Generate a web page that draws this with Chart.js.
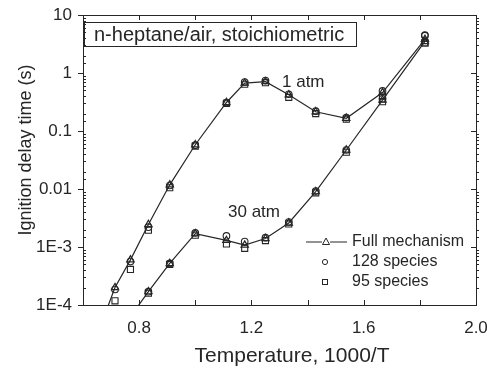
<!DOCTYPE html>
<html>
<head>
<meta charset="utf-8">
<script src="https://cdn.jsdelivr.net/npm/chart.js@4.4.1/dist/chart.umd.min.js"></script>
<style>
  html, body { margin: 0; padding: 0; background: #fff; }
  #wrap { width: 487px; height: 369px; }
</style>
</head>
<body>
<div id="wrap"><canvas id="chart" width="487" height="369"></canvas></div>
<script>
// 1000/T values (T = 1500 ... 550 K)
const invT = [0.667, 0.714, 0.769, 0.833, 0.909, 1.0, 1.111, 1.176, 1.25, 1.333, 1.429, 1.538, 1.667, 1.818];

// 1 atm
const full1atm = [5e-5, 2.0e-4, 6.0e-4, 2.45e-3, 0.0118, 0.058, 0.31, 0.67, 0.71, 0.42, 0.215, 0.166, 0.46, 3.8];
const sp128_1atm = [null, 1.85e-4, 5.6e-4, 2.2e-3, 0.0115, 0.057, 0.31, 0.70, 0.74, 0.43, 0.22, 0.17, 0.49, 4.5];
const sp95_1atm = [null, 1.18e-4, 4.1e-4, 1.95e-3, 0.0105, 0.055, 0.30, 0.64, 0.68, 0.38, 0.20, 0.16, 0.40, 3.3];

// 30 atm
const full30atm = [null, null, 6.3e-5, 1.7e-4, 5.2e-4, 1.7e-3, 1.3e-3, 1.08e-3, 1.4e-3, 2.6e-3, 9.0e-3, 0.047, 0.34, 3.5];
const sp128_30atm = [null, null, null, 1.7e-4, 5.2e-4, 1.75e-3, 1.55e-3, 1.24e-3, 1.45e-3, 2.7e-3, 9.2e-3, 0.047, 0.36, 4.4];
const sp95_30atm = [null, null, null, 1.6e-4, 5.0e-4, 1.6e-3, 1.13e-3, 0.95e-3, 1.29e-3, 2.5e-3, 8.6e-3, 0.043, 0.32, 3.3];

// tick labels
const xTickLabels = ['0.8', '1.2', '1.6', '2.0'];
const yTickValues = [1e-4, 1e-3, 0.01, 0.1, 1, 10];
const yTickLabels = ['1E-4', '1E-3', '0.01', '0.1', '1', '10'];

const xTitle = 'Temperature, 1000/T';
const yTitle = 'Ignition delay time (s)';

const ink = '#262626';
const fontFam = "'Liberation Sans', Arial, sans-serif";

function pts(ys) {
    return invT.map((x, i) => ({ x: x, y: ys[i] }));
}

function fullSet(ys) {
    return {
        data: pts(ys),
        borderColor: ink,
        borderWidth: 1.2,
        pointStyle: 'triangle',
        pointRadius: 4.2,
        pointBorderWidth: 1.2,
        pointBorderColor: ink,
        pointBackgroundColor: 'rgba(0,0,0,0)',
        showLine: true,
        clip: 0
    };
}

function markerSet(ys, style, r) {
    return {
        data: pts(ys),
        showLine: false,
        pointStyle: style,
        pointRadius: r,
        pointBorderWidth: 1.1,
        pointBorderColor: ink,
        pointBackgroundColor: 'rgba(0,0,0,0)'
    };
}

// ticks, frame, titles, boxed label, annotations and legend
const decor = {
    id: 'decor',
    afterDraw(chart) {
        const ctx = chart.ctx;
        const a = chart.chartArea;
        const xs = chart.scales.x, ys = chart.scales.y;
        ctx.save();
        ctx.strokeStyle = ink;
        ctx.fillStyle = ink;
        ctx.lineWidth = 1;

        // frame top/right
        ctx.beginPath();
        ctx.moveTo(a.left, a.top + 0.5);
        ctx.lineTo(a.right + 0.5, a.top + 0.5);
        ctx.lineTo(a.right + 0.5, a.bottom);
        ctx.stroke();

        // x ticks (inward)
        ctx.beginPath();
        xs.ticks.forEach(t => {
            if (t.value <= xs.min + 1e-6) return;
            const px = Math.round(xs.getPixelForValue(t.value)) + 0.5;
            ctx.moveTo(px, a.bottom);
            ctx.lineTo(px, a.bottom - 5);
            ctx.moveTo(px, a.top);
            ctx.lineTo(px, a.top + 5);
        });
        // y ticks
        ys.ticks.forEach(t => {
            const py = Math.round(ys.getPixelForValue(t.value)) + 0.5;
            const lg = Math.log10(t.value);
            const major = Math.abs(lg - Math.round(lg)) < 1e-6;
            if (major) {
                ctx.moveTo(a.left - 5, py);
                ctx.lineTo(a.left, py);
                ctx.moveTo(a.right, py);
                ctx.lineTo(a.right - 5, py);
            } else {
                ctx.moveTo(a.left, py);
                ctx.lineTo(a.left + 3, py);
                ctx.moveTo(a.right, py);
                ctx.lineTo(a.right + 3, py);
            }
        });
        ctx.stroke();

        // axis titles
        ctx.textAlign = 'center';
        ctx.textBaseline = 'middle';
        ctx.font = '21px ' + fontFam;
        ctx.fillText(xTitle, 292, 356);
        ctx.save();
        ctx.translate(26, 150);
        ctx.rotate(-Math.PI / 2);
        ctx.font = '18px ' + fontFam;
        ctx.fillText(yTitle, 0, 0);
        ctx.restore();

        // boxed label
        ctx.strokeRect(84.5, 22.5, 272, 24);
        ctx.font = '20px ' + fontFam;
        ctx.textBaseline = 'middle';
        ctx.textAlign = 'left';
        ctx.fillText('n-heptane/air, stoichiometric', 94, 35);

        // pressure annotations
        ctx.font = '17px ' + fontFam;
        ctx.textBaseline = 'alphabetic';
        ctx.fillText('1 atm', 282, 87);
        ctx.fillText('30 atm', 228, 217);

        // legend
        const lx = 326;
        const rows = [242, 262, 282];
        ctx.beginPath();
        ctx.moveTo(306, rows[0]);
        ctx.lineTo(322, rows[0]);
        ctx.moveTo(330, rows[0]);
        ctx.lineTo(347, rows[0]);
        ctx.stroke();
        ctx.beginPath();
        ctx.moveTo(lx, rows[0] - 4);
        ctx.lineTo(lx + 3.5, rows[0] + 2.5);
        ctx.lineTo(lx - 3.5, rows[0] + 2.5);
        ctx.closePath();
        ctx.stroke();
        ctx.beginPath();
        ctx.arc(lx - 1, rows[1], 2.6, 0, Math.PI * 2);
        ctx.stroke();
        ctx.strokeRect(lx - 3.5, rows[2] - 2.5, 5, 5);

        ctx.font = '16px ' + fontFam;
        ctx.textBaseline = 'middle';
        ctx.fillText('Full mechanism', 352, rows[0]);
        ctx.fillText('128 species', 352, rows[1]);
        ctx.fillText('95 species', 352, rows[2]);
        ctx.restore();
    }
};

new Chart(document.getElementById('chart'), {
    type: 'line',
    data: {
        datasets: [
            fullSet(full1atm),
            fullSet(full30atm),
            markerSet(sp128_1atm, 'circle', 3.3),
            markerSet(sp128_30atm, 'circle', 3.3),
            markerSet(sp95_1atm, 'rect', 4.3),
            markerSet(sp95_30atm, 'rect', 4.3)
        ]
    },
    options: {
        responsive: false,
        animation: false,
        events: [],
        layout: { padding: { top: 15, right: 11, left: 0, bottom: 0 } },
        plugins: {
            legend: { display: false },
            tooltip: { enabled: false }
        },
        scales: {
            x: {
                type: 'linear',
                min: 0.6,
                max: 2.0,
                grid: { display: false, drawTicks: false },
                border: { display: true, color: ink, width: 1 },
                ticks: {
                    stepSize: 0.2,
                    autoSkip: false,
                    maxRotation: 0,
                    padding: 13,
                    color: ink,
                    font: { family: fontFam, size: 17 },
                    callback: function(v) {
                        const s = (Math.round(v * 10) / 10).toFixed(1);
                        return xTickLabels.includes(s) ? s : '';
                    }
                },
                title: { display: false },
                afterFit: function(scale) {
                    scale.height = 64;
                    scale.paddingLeft = 0;
                    scale.paddingRight = 0;
                }
            },
            y: {
                type: 'logarithmic',
                min: 1e-4,
                max: 10,
                grid: { display: false, drawTicks: false },
                border: { display: true, color: ink, width: 1 },
                ticks: {
                    autoSkip: false,
                    padding: 11,
                    color: ink,
                    font: { family: fontFam, size: 17 },
                    callback: function(v) {
                        const i = yTickValues.findIndex(d => Math.abs(v - d) / d < 1e-6);
                        return i >= 0 ? yTickLabels[i] : '';
                    }
                },
                title: { display: false },
                afterFit: function(scale) {
                    scale.width = 83;
                    scale.paddingTop = 0;
                    scale.paddingBottom = 0;
                }
            }
        }
    },
    plugins: [decor]
});
</script>
</body>
</html>
